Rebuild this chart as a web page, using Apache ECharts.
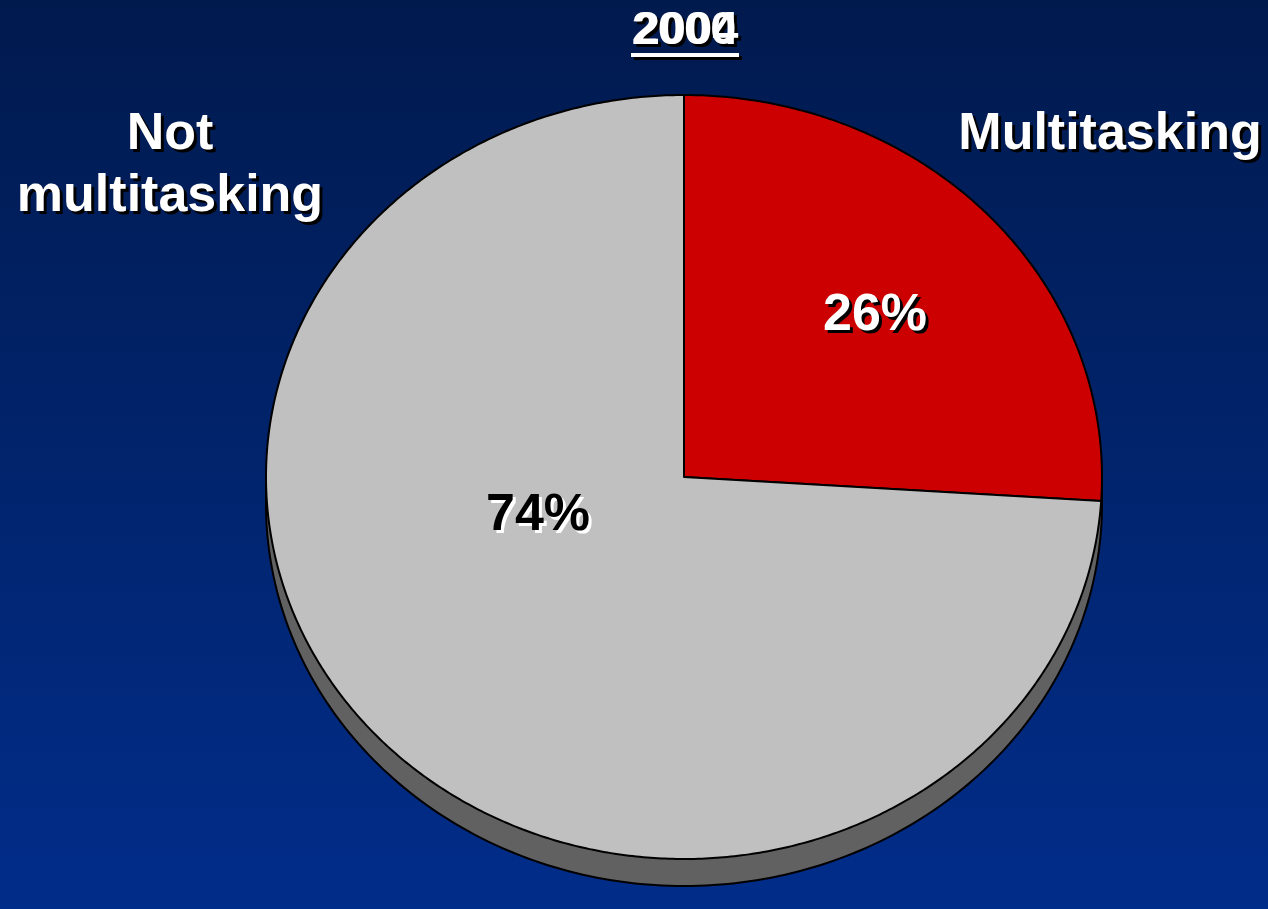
<!DOCTYPE html>
<html>
<head>
<meta charset="utf-8">
<script src="https://cdn.jsdelivr.net/npm/echarts@6/dist/echarts.min.js"></script>
<style>
  html, body { margin: 0; padding: 0; }
  #chart { width: 1268px; height: 909px; }
</style>
</head>
<body>
<div id="chart"></div>
<script>
// Share of respondents, by category
const categories = ['Multitasking', 'Not multitasking'];
const categoryLabels = ['Multitasking', 'Not\nmultitasking'];
const shares = [26, 74];
const valueLabels = ['26%', '74%'];
const yearLabels = ['2004', '2000'];

// Layout and styling of the tilted pie
const PIE = { cx: 684, cy: 477, rx: 418, ry: 382, depth: 27 };
const sliceColors = ['#cc0000', '#c0c0c0'];
const depthColor = '#616161';
const valueStyle = [
  { pos: [875, 316], fill: '#ffffff', shadow: '#000000' },
  { pos: [538, 516], fill: '#000000', shadow: '#ffffff' }
];
const nameStyle = [
  { pos: [1110, 135] },
  { pos: [170, 166] }
];
const yearOffsets = [1, -1];
const FONT_FAMILY = '"Liberation Sans", Arial, sans-serif';
const FONT_BIG = 'bold 52px ' + FONT_FAMILY;
const FONT_TITLE = 'bold 47px ' + FONT_FAMILY;
const SHADOW_OFFSET = 3;

const chart = echarts.init(document.getElementById('chart'));
const total = shares.reduce((a, b) => a + b, 0);

function ellipsePoint(theta, dy) {
  // theta measured clockwise from 12 o'clock
  return [PIE.cx + PIE.rx * Math.sin(theta), PIE.cy - PIE.ry * Math.cos(theta) + (dy || 0)];
}

// Text with a hard drop shadow: an offset copy underneath, then the text itself
function shadowedText(text, x, y, font, fill, shadow, extra) {
  const base = Object.assign({
    text: text, font: font, align: 'center', verticalAlign: 'middle'
  }, extra || {});
  return [
    { type: 'text', x: x + SHADOW_OFFSET, y: y + SHADOW_OFFSET, style: Object.assign({}, base, { fill: shadow }) },
    { type: 'text', x: x, y: y, style: Object.assign({}, base, { fill: fill }) }
  ];
}

function renderItem(params, api) {
  const i = params.dataIndex;
  let before = 0;
  for (let k = 0; k < i; k++) before += shares[k];
  const a0 = before / total * Math.PI * 2;
  const a1 = (before + api.value(0)) / total * Math.PI * 2;
  const children = [];

  if (i === 0) {
    // side wall of the pie, visible below the top face
    const wall = [];
    wall.push([PIE.cx + PIE.rx, PIE.cy]);
    const steps = 180;
    for (let s = 0; s <= steps; s++) {
      const t = Math.PI / 2 + Math.PI * s / steps;
      wall.push(ellipsePoint(t, PIE.depth));
    }
    wall.push([PIE.cx - PIE.rx, PIE.cy]);
    children.push({
      type: 'polygon',
      shape: { points: wall },
      style: { fill: depthColor, stroke: '#000', lineWidth: 2 }
    });
  }

  const pts = [[PIE.cx, PIE.cy]];
  const n = Math.max(2, Math.ceil((a1 - a0) / (Math.PI / 360)));
  for (let s = 0; s <= n; s++) {
    pts.push(ellipsePoint(a0 + (a1 - a0) * s / n));
  }
  children.push({
    type: 'polygon',
    shape: { points: pts },
    style: { fill: sliceColors[i], stroke: '#000', lineWidth: 2, lineJoin: 'round' }
  });

  const vs = valueStyle[i];
  children.push.apply(children, shadowedText(valueLabels[i], vs.pos[0], vs.pos[1], FONT_BIG, vs.fill, vs.shadow));

  const ns = nameStyle[i];
  children.push.apply(children, shadowedText(categoryLabels[i], ns.pos[0], ns.pos[1], FONT_BIG, '#ffffff', '#000000', { lineHeight: 62 }));

  return { type: 'group', children: children };
}

// Year heading with underline: all shadows first, then the white layers on top
const titleShadows = [{
  type: 'rect',
  shape: { x: 631 + SHADOW_OFFSET, y: 53 + SHADOW_OFFSET, width: 108, height: 4 },
  style: { fill: '#000000' }
}];
const titleFaces = [{
  type: 'rect',
  shape: { x: 631, y: 53, width: 108, height: 4 },
  style: { fill: '#ffffff' }
}];
yearLabels.forEach((t, k) => {
  const pair = shadowedText(t, 685 + yearOffsets[k], 31, FONT_TITLE, '#ffffff', '#000000');
  titleShadows.push(pair[0]);
  titleFaces.push(pair[1]);
});

chart.setOption({
  animation: false,
  backgroundColor: new echarts.graphic.LinearGradient(0, 0, 0, 1, [
    { offset: 0, color: '#011a4e' },
    { offset: 1, color: '#012d8a' }
  ]),
  graphic: [{ type: 'group', children: titleShadows.concat(titleFaces), z: 10 }],
  series: [{
    type: 'custom',
    coordinateSystem: 'none',
    renderItem: renderItem,
    data: shares.map((v, i) => ({ name: categories[i], value: [v] }))
  }]
});
</script>
</body>
</html>
